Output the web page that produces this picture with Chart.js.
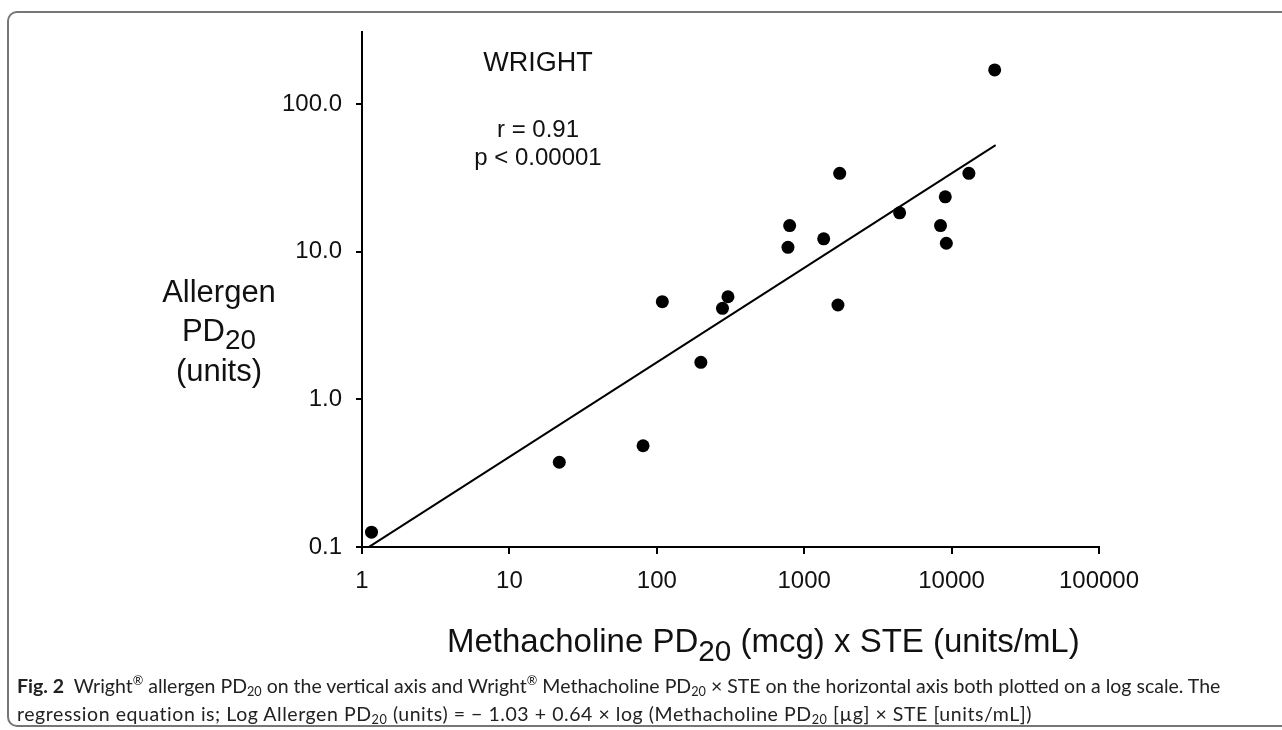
<!DOCTYPE html>
<html>
<head>
<meta charset="utf-8">
<script src="https://cdn.jsdelivr.net/npm/chart.js@4/dist/chart.umd.min.js"></script>
<style>
    body { margin: 0; background: #fff; width: 1282px; height: 730px; overflow: hidden; position: relative; font-family: "Liberation Sans", Arial, sans-serif; }
    #frame { position: absolute; left: 7px; top: 11px; width: 1300px; height: 716px; border: 2px solid #767676; border-radius: 10px; box-sizing: border-box; }
    #chart { position: absolute; left: 0; top: 0; }
    .txt { position: absolute; white-space: nowrap; color: #111; }
    .sub { font-size: 0.9em; position: relative; top: 0.3em; }
    #ytitle { left: 139px; top: 272px; width: 160px; text-align: center; font-size: 31px; line-height: 39px; }
    #xtitle { left: 447px; top: 622px; font-size: 33px; }
    #wright { left: 438px; top: 47px; width: 200px; text-align: center; font-size: 27px; }
    #stats { left: 438px; top: 115px; width: 200px; text-align: center; font-size: 24px; line-height: 28px; }
    #caption { left: 17px; top: 666px; font-family: Lato, "Liberation Sans", sans-serif; font-size: 19.5px; line-height: 28px; color: #222; }
    #caption sup { font-size: 0.65em; }
    #caption sub { font-size: 0.65em; vertical-align: -0.25em; line-height: 0; }
    #caption .l2 { letter-spacing: 0.55px; }
</style>
</head>
<body>
<div id="frame"></div>
<canvas id="chart" width="1282" height="730"></canvas>
<div class="txt" id="ytitle">Allergen<br>PD<span class="sub">20</span><br>(units)</div>
<div class="txt" id="xtitle">Methacholine PD<span class="sub">20</span> (mcg) x STE (units/mL)</div>
<div class="txt" id="wright">WRIGHT</div>
<div class="txt" id="stats">r = 0.91<br>p &lt; 0.00001</div>
<div class="txt" id="caption"><b>Fig. 2</b>&nbsp; Wright<sup>®</sup> allergen PD<sub>20</sub> on the vertical axis and Wright<sup>®</sup> Methacholine PD<sub>20</sub> × STE on the horizontal axis both plotted on a log scale. The<br><span class="l2">regression equation is; Log Allergen PD<sub>20</sub> (units) = − 1.03 + 0.64 × log (Methacholine PD<sub>20</sub> [µg] × STE [units/mL])</span></div>
<script>
(function () {
    "use strict";

    // methacholine PD20 x STE (x) and allergen PD20 (y)
    const methacholine = [1.16, 21.8, 80.7, 109, 199, 279, 304, 776, 797, 1356, 1694, 1741, 4440, 8410, 9060, 9210, 13100, 19600];
    const allergen = [0.126, 0.375, 0.485, 4.58, 1.78, 4.13, 4.95, 10.7, 15.0, 12.2, 4.35, 33.9, 18.3, 15.0, 23.5, 11.4, 33.9, 170];

    // regression: log y = a + b log x
    const fitA = -1.03;
    const fitB = 0.64;
    const fitX = [1.11, 19900];

    const xTicks = [1, 10, 100, 1000, 10000, 100000];
    const xTickLabels = ['1', '10', '100', '1000', '10000', '100000'];
    const yTicks = [0.1, 1, 10, 100];
    const yTickLabels = ['0.1', '1.0', '10.0', '100.0'];

    const points = methacholine.map((x, i) => ({ x: x, y: allergen[i] }));
    const fitLine = fitX.map(x => ({ x: x, y: Math.pow(10, fitA + fitB * Math.log10(x)) }));

    const tickFont = { family: '"Liberation Sans", Arial, sans-serif', size: 24 };

    const config = {
        type: 'scatter',
        data: {
            datasets: [{
                label: 'Wright',
                data: points,
                backgroundColor: '#000',
                borderWidth: 0,
                pointRadius: 6.5
            }, {
                label: 'Regression',
                data: fitLine,
                showLine: true,
                borderColor: '#000',
                borderWidth: 2,
                pointRadius: 0
            }]
        },
        options: {
            responsive: false,
            animation: false,
            devicePixelRatio: 1,
            layout: {
                padding: { left: 272, right: 183, top: 32, bottom: 123 }
            },
            plugins: {
                legend: { display: false },
                tooltip: { enabled: false }
            },
            scales: {
                x: {
                    type: 'logarithmic',
                    min: 1,
                    max: 100000,
                    afterBuildTicks: (scale) => { scale.ticks = xTicks.map(v => ({ value: v })); },
                    afterFit: (scale) => { scale.height = 60; },
                    ticks: {
                        autoSkip: false,
                        maxRotation: 0,
                        padding: 13,
                        color: '#111',
                        font: tickFont,
                        callback: (v, i) => xTickLabels[i]
                    },
                    grid: { display: true, drawOnChartArea: false, drawTicks: true, tickLength: 7, color: '#000', lineWidth: 2 },
                    border: { display: true, color: '#000', width: 2 }
                },
                y: {
                    type: 'logarithmic',
                    min: 0.1,
                    max: 307,
                    afterBuildTicks: (scale) => { scale.ticks = yTicks.map(v => ({ value: v })); },
                    afterFit: (scale) => { scale.width = 90; },
                    ticks: {
                        autoSkip: false,
                        padding: 14,
                        color: '#111',
                        font: tickFont,
                        callback: (v, i) => yTickLabels[i]
                    },
                    grid: { display: true, drawOnChartArea: false, drawTicks: true, tickLength: 6, color: '#000', lineWidth: 2 },
                    border: { display: true, color: '#000', width: 2 }
                }
            }
        }
    };

    const myChart = new Chart(document.getElementById('chart'), config);
})();
</script>
</body>
</html>
